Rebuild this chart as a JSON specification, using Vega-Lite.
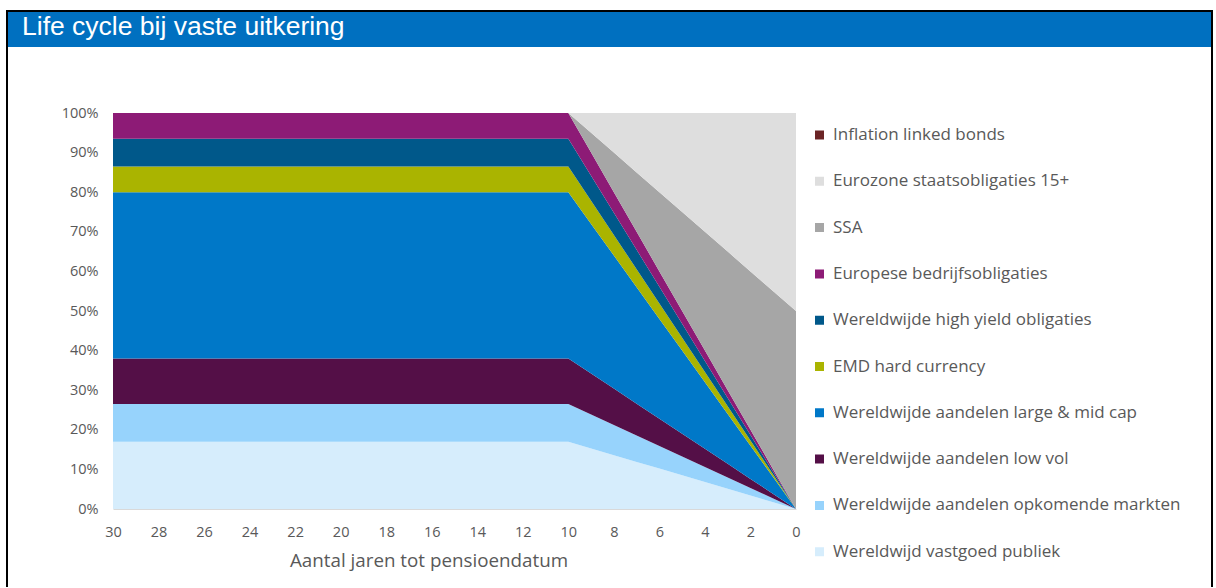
{
  "$schema": "https://vega.github.io/schema/vega-lite/v6.json",
  "padding": {"left": 6, "top": 10, "right": 0, "bottom": 0},
  "background": "white",
  "bounds": "flush",
  "spacing": 0,
  "datasets": {
    "klassen": [
      {"code": "vg", "klasse": "Wereldwijd vastgoed publiek", "volgorde": 1},
      {"code": "om", "klasse": "Wereldwijde aandelen opkomende markten", "volgorde": 2},
      {"code": "lv", "klasse": "Wereldwijde aandelen low vol", "volgorde": 3},
      {"code": "lm", "klasse": "Wereldwijde aandelen large & mid cap", "volgorde": 4},
      {"code": "emd", "klasse": "EMD hard currency", "volgorde": 5},
      {"code": "hy", "klasse": "Wereldwijde high yield obligaties", "volgorde": 6},
      {"code": "eb", "klasse": "Europese bedrijfsobligaties", "volgorde": 7},
      {"code": "ssa", "klasse": "SSA", "volgorde": 8},
      {"code": "ez", "klasse": "Eurozone staatsobligaties 15+", "volgorde": 9},
      {"code": "ilb", "klasse": "Inflation linked bonds", "volgorde": 10}
    ],
    "verdeling": [
      {"jaar": 30, "vg": 17, "om": 9.5, "lv": 11.5, "lm": 42, "emd": 6.5, "hy": 7, "eb": 6.5, "ssa": 0, "ez": 0, "ilb": 0},
      {"jaar": 29, "vg": 17, "om": 9.5, "lv": 11.5, "lm": 42, "emd": 6.5, "hy": 7, "eb": 6.5, "ssa": 0, "ez": 0, "ilb": 0},
      {"jaar": 28, "vg": 17, "om": 9.5, "lv": 11.5, "lm": 42, "emd": 6.5, "hy": 7, "eb": 6.5, "ssa": 0, "ez": 0, "ilb": 0},
      {"jaar": 27, "vg": 17, "om": 9.5, "lv": 11.5, "lm": 42, "emd": 6.5, "hy": 7, "eb": 6.5, "ssa": 0, "ez": 0, "ilb": 0},
      {"jaar": 26, "vg": 17, "om": 9.5, "lv": 11.5, "lm": 42, "emd": 6.5, "hy": 7, "eb": 6.5, "ssa": 0, "ez": 0, "ilb": 0},
      {"jaar": 25, "vg": 17, "om": 9.5, "lv": 11.5, "lm": 42, "emd": 6.5, "hy": 7, "eb": 6.5, "ssa": 0, "ez": 0, "ilb": 0},
      {"jaar": 24, "vg": 17, "om": 9.5, "lv": 11.5, "lm": 42, "emd": 6.5, "hy": 7, "eb": 6.5, "ssa": 0, "ez": 0, "ilb": 0},
      {"jaar": 23, "vg": 17, "om": 9.5, "lv": 11.5, "lm": 42, "emd": 6.5, "hy": 7, "eb": 6.5, "ssa": 0, "ez": 0, "ilb": 0},
      {"jaar": 22, "vg": 17, "om": 9.5, "lv": 11.5, "lm": 42, "emd": 6.5, "hy": 7, "eb": 6.5, "ssa": 0, "ez": 0, "ilb": 0},
      {"jaar": 21, "vg": 17, "om": 9.5, "lv": 11.5, "lm": 42, "emd": 6.5, "hy": 7, "eb": 6.5, "ssa": 0, "ez": 0, "ilb": 0},
      {"jaar": 20, "vg": 17, "om": 9.5, "lv": 11.5, "lm": 42, "emd": 6.5, "hy": 7, "eb": 6.5, "ssa": 0, "ez": 0, "ilb": 0},
      {"jaar": 19, "vg": 17, "om": 9.5, "lv": 11.5, "lm": 42, "emd": 6.5, "hy": 7, "eb": 6.5, "ssa": 0, "ez": 0, "ilb": 0},
      {"jaar": 18, "vg": 17, "om": 9.5, "lv": 11.5, "lm": 42, "emd": 6.5, "hy": 7, "eb": 6.5, "ssa": 0, "ez": 0, "ilb": 0},
      {"jaar": 17, "vg": 17, "om": 9.5, "lv": 11.5, "lm": 42, "emd": 6.5, "hy": 7, "eb": 6.5, "ssa": 0, "ez": 0, "ilb": 0},
      {"jaar": 16, "vg": 17, "om": 9.5, "lv": 11.5, "lm": 42, "emd": 6.5, "hy": 7, "eb": 6.5, "ssa": 0, "ez": 0, "ilb": 0},
      {"jaar": 15, "vg": 17, "om": 9.5, "lv": 11.5, "lm": 42, "emd": 6.5, "hy": 7, "eb": 6.5, "ssa": 0, "ez": 0, "ilb": 0},
      {"jaar": 14, "vg": 17, "om": 9.5, "lv": 11.5, "lm": 42, "emd": 6.5, "hy": 7, "eb": 6.5, "ssa": 0, "ez": 0, "ilb": 0},
      {"jaar": 13, "vg": 17, "om": 9.5, "lv": 11.5, "lm": 42, "emd": 6.5, "hy": 7, "eb": 6.5, "ssa": 0, "ez": 0, "ilb": 0},
      {"jaar": 12, "vg": 17, "om": 9.5, "lv": 11.5, "lm": 42, "emd": 6.5, "hy": 7, "eb": 6.5, "ssa": 0, "ez": 0, "ilb": 0},
      {"jaar": 11, "vg": 17, "om": 9.5, "lv": 11.5, "lm": 42, "emd": 6.5, "hy": 7, "eb": 6.5, "ssa": 0, "ez": 0, "ilb": 0},
      {"jaar": 10, "vg": 17, "om": 9.5, "lv": 11.5, "lm": 42, "emd": 6.5, "hy": 7, "eb": 6.5, "ssa": 0, "ez": 0, "ilb": 0},
      {"jaar": 9, "vg": 15.3, "om": 8.55, "lv": 10.35, "lm": 37.8, "emd": 5.85, "hy": 6.3, "eb": 5.85, "ssa": 5, "ez": 5, "ilb": 0},
      {"jaar": 8, "vg": 13.6, "om": 7.6, "lv": 9.2, "lm": 33.6, "emd": 5.2, "hy": 5.6, "eb": 5.2, "ssa": 10, "ez": 10, "ilb": 0},
      {"jaar": 7, "vg": 11.9, "om": 6.65, "lv": 8.05, "lm": 29.4, "emd": 4.55, "hy": 4.9, "eb": 4.55, "ssa": 15, "ez": 15, "ilb": 0},
      {"jaar": 6, "vg": 10.2, "om": 5.7, "lv": 6.9, "lm": 25.2, "emd": 3.9, "hy": 4.2, "eb": 3.9, "ssa": 20, "ez": 20, "ilb": 0},
      {"jaar": 5, "vg": 8.5, "om": 4.75, "lv": 5.75, "lm": 21, "emd": 3.25, "hy": 3.5, "eb": 3.25, "ssa": 25, "ez": 25, "ilb": 0},
      {"jaar": 4, "vg": 6.8, "om": 3.8, "lv": 4.6, "lm": 16.8, "emd": 2.6, "hy": 2.8, "eb": 2.6, "ssa": 30, "ez": 30, "ilb": 0},
      {"jaar": 3, "vg": 5.1, "om": 2.85, "lv": 3.45, "lm": 12.6, "emd": 1.95, "hy": 2.1, "eb": 1.95, "ssa": 35, "ez": 35, "ilb": 0},
      {"jaar": 2, "vg": 3.4, "om": 1.9, "lv": 2.3, "lm": 8.4, "emd": 1.3, "hy": 1.4, "eb": 1.3, "ssa": 40, "ez": 40, "ilb": 0},
      {"jaar": 1, "vg": 1.7, "om": 0.95, "lv": 1.15, "lm": 4.2, "emd": 0.65, "hy": 0.7, "eb": 0.65, "ssa": 45, "ez": 45, "ilb": 0},
      {"jaar": 0, "vg": 0, "om": 0, "lv": 0, "lm": 0, "emd": 0, "hy": 0, "eb": 0, "ssa": 50, "ez": 50, "ilb": 0}
    ]
  },
  "vconcat": [
    {
      "width": 1205,
      "height": 36,
      "view": {"fill": "#0070C0", "stroke": "#000000", "strokeWidth": 2, "strokeDash": [1241, 1205, 36]},
      "data": {"values": [{"kop": "Life cycle bij vaste uitkering", "pos": 0}]},
      "mark": {"type": "text", "align": "left", "baseline": "alphabetic", "dy": 6, "font": "Liberation Sans", "fontSize": 26.5, "color": "#FFFFFF"},
      "encoding": {
        "x": {"field": "pos", "type": "quantitative", "scale": {"domain": [0, 1], "range": [15, 1205]}, "axis": null},
        "text": {"field": "kop"}
      }
    },
    {
      "width": 1205,
      "height": 540,
      "view": {"stroke": "#000000", "strokeWidth": 2, "strokeDash": [0, 1205, 540, 1205, 540]},
      "data": {"name": "verdeling"},
      "transform": [
        {"fold": ["vg", "om", "lv", "lm", "emd", "hy", "eb", "ssa", "ez", "ilb"], "as": ["code", "aandeel"]},
        {"lookup": "code", "from": {"data": {"name": "klassen"}, "key": "code", "fields": ["klasse", "volgorde"]}}
      ],
      "mark": {"type": "area", "interpolate": "linear"},
      "encoding": {
        "x": {
          "field": "jaar",
          "type": "quantitative",
          "scale": {"domain": [30, 0], "range": [106, 789]},
          "axis": {
            "orient": "bottom",
            "offset": -78,
            "values": [30, 28, 26, 24, 22, 20, 18, 16, 14, 12, 10, 8, 6, 4, 2, 0],
            "domain": true,
            "domainColor": "#D9D9D9",
            "domainWidth": 1,
            "ticks": false,
            "grid": false,
            "labelFlush": false,
            "labelPadding": 16,
            "labelFont": "Open Sans",
            "labelFontSize": 14.5,
            "labelColor": "#595959",
            "title": "Aantal jaren tot pensioendatum",
            "titleFont": "Open Sans",
            "titleFontSize": 18.8,
            "titleFontWeight": "normal",
            "titleColor": "#595959",
            "titleX": 421.5,
            "titleAlign": "center",
            "titlePadding": 13
          }
        },
        "y": {
          "field": "aandeel",
          "type": "quantitative",
          "stack": "zero",
          "scale": {"domain": [0, 100], "range": [462, 66]},
          "axis": {
            "orient": "left",
            "offset": -106,
            "values": [0, 10, 20, 30, 40, 50, 60, 70, 80, 90, 100],
            "labelExpr": "datum.value + '%'",
            "domain": false,
            "ticks": false,
            "grid": false,
            "labelPadding": 15,
            "labelFont": "Open Sans",
            "labelFontSize": 14.5,
            "labelColor": "#595959",
            "title": null
          }
        },
        "color": {
          "field": "klasse",
          "type": "nominal",
          "scale": {
            "domain": [
              "Inflation linked bonds",
              "Eurozone staatsobligaties 15+",
              "SSA",
              "Europese bedrijfsobligaties",
              "Wereldwijde high yield obligaties",
              "EMD hard currency",
              "Wereldwijde aandelen large & mid cap",
              "Wereldwijde aandelen low vol",
              "Wereldwijde aandelen opkomende markten",
              "Wereldwijd vastgoed publiek"
            ],
            "range": ["#6B2425", "#DEDEDE", "#A6A6A6", "#8D1B76", "#00588A", "#AAB400", "#0078C8", "#540F47", "#97D3FC", "#D6EDFC"]
          },
          "legend": {
            "orient": "none",
            "legendX": 804,
            "legendY": 114,
            "title": null,
            "padding": 0,
            "symbolType": "square",
            "symbolSize": 81,
            "symbolStrokeWidth": 0,
            "symbolOpacity": 1,
            "labelFont": "Open Sans",
            "labelFontSize": 17,
            "labelColor": "#595959",
            "labelOffset": 5,
            "labelLimit": 500,
            "clipHeight": 20,
            "rowPadding": 26.3
          }
        },
        "order": {"field": "volgorde", "type": "quantitative"}
      }
    }
  ]
}
